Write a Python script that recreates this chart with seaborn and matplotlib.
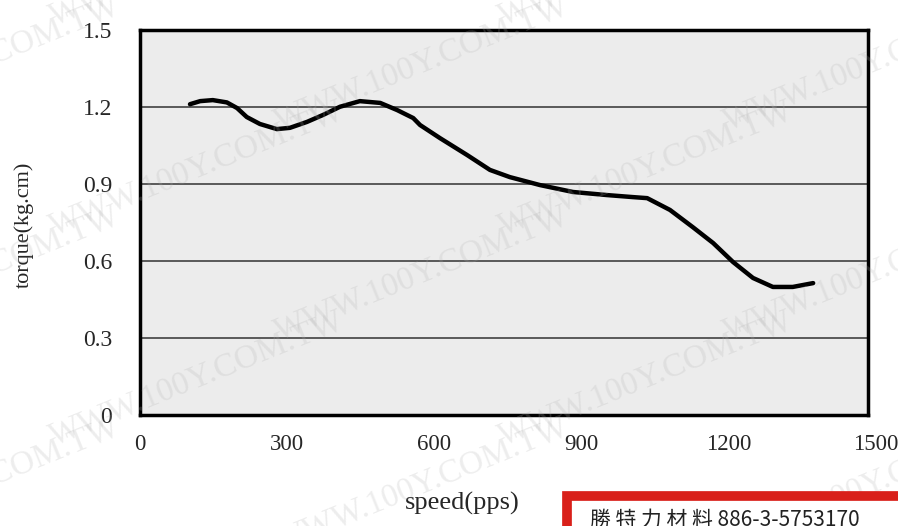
import numpy as np
import pandas as pd
import matplotlib
matplotlib.use("Agg")
import matplotlib.pyplot as plt
from matplotlib.patches import Rectangle
import seaborn as sns

# --- data ---
speed = [103, 124, 150, 179, 200, 220, 247, 282, 309, 344, 377, 412, 453,
         495, 530, 563, 577, 618, 674, 721, 762, 824, 892, 962, 1016, 1045,
         1092, 1139, 1181, 1222, 1263, 1304, 1345, 1387]
torque = [1.211, 1.223, 1.227, 1.218, 1.196, 1.161, 1.134, 1.114, 1.119,
          1.142, 1.169, 1.201, 1.223, 1.216, 1.188, 1.157, 1.130, 1.079,
          1.013, 0.955, 0.927, 0.896, 0.869, 0.857, 0.849, 0.845, 0.799,
          0.732, 0.670, 0.596, 0.534, 0.499, 0.499, 0.514]
x_ticks = [0, 300, 600, 900, 1200, 1500]
y_ticks = [0, 0.3, 0.6, 0.9, 1.2, 1.5]
y_tick_labels = ["0", "0.3", "0.6", "0.9", "1.2", "1.5"]
watermark = "WWW.100Y.COM.TW"
banner = "勝 特 力 材 料 886-3-5753170"

df = pd.DataFrame({"speed": speed, "torque": torque})

sns.set_style("white")
plt.rcParams["font.family"] = ["Liberation Serif", "DejaVu Serif"]

fig = plt.figure(figsize=(8.98, 5.26), dpi=100)
fig.patch.set_facecolor("white")
ax = fig.add_axes([0.1559, 0.211, 0.8107, 0.7319])
ax.set_facecolor("#ececec")

for yv in y_ticks[1:-1]:
    ax.axhline(yv, color="#5a5a5a", lw=1.4, zorder=1)

sns.lineplot(data=df, x="speed", y="torque", ax=ax, color="black",
             lw=3.2, zorder=3)

ax.set_xlim(0, 1500)
ax.set_ylim(0, 1.5)
ax.set_xticks(x_ticks[1:-1])
ax.set_xticklabels([])
ax.tick_params(axis="x", direction="in", length=7, width=2, color="black")
ax.set_yticks(y_ticks)
ax.set_yticklabels(y_tick_labels, fontsize=17)
ax.tick_params(axis="y", length=0, pad=20)
for s in ax.spines.values():
    s.set_color("black")
    s.set_linewidth(2.5)

# x tick labels are spaced a bit wider than the frame in the original
for xv in x_ticks:
    fx = (140 + 736 * xv / 1500) / 898
    fig.text(fx, 1 - 445 / 526, str(xv), fontsize=16.5, ha="center",
             va="center")

ax.set_xlabel("")
ax.set_ylabel("")
fig.text(462 / 898, 1 - 503 / 526, "speed(pps)", fontsize=19,
         ha="center", va="center")
fig.text(24 / 898, 1 - 225 / 526, "torque(kg.cm)", fontsize=16,
         rotation=90, ha="center", va="center")

# faint watermarks over everything
for row, yy in enumerate(np.arange(-0.06, 1.05, 0.2)):
    off = 0.0 if row % 2 == 0 else 0.25
    for xx in np.arange(-0.2 + off, 1.1, 0.5):
        fig.text(xx, yy, watermark, color="#b0b0b0", alpha=0.22,
                 fontsize=24, rotation=22, ha="left", va="bottom",
                 zorder=10)

# red banner at bottom right, cut by the edge
fig.patches.append(Rectangle((567 / 898, -0.05), 0.5, 30 / 526 + 0.05,
                             transform=fig.transFigure, facecolor="white",
                             edgecolor="#d9201a", lw=7, zorder=11))
fig.text(590 / 898, 1 - 520 / 526, banner, fontsize=15, color="#222222",
         family=["Noto Sans CJK TC", "DejaVu Sans"], ha="left",
         va="center", zorder=12)

fig.savefig("out.png", dpi=100)
